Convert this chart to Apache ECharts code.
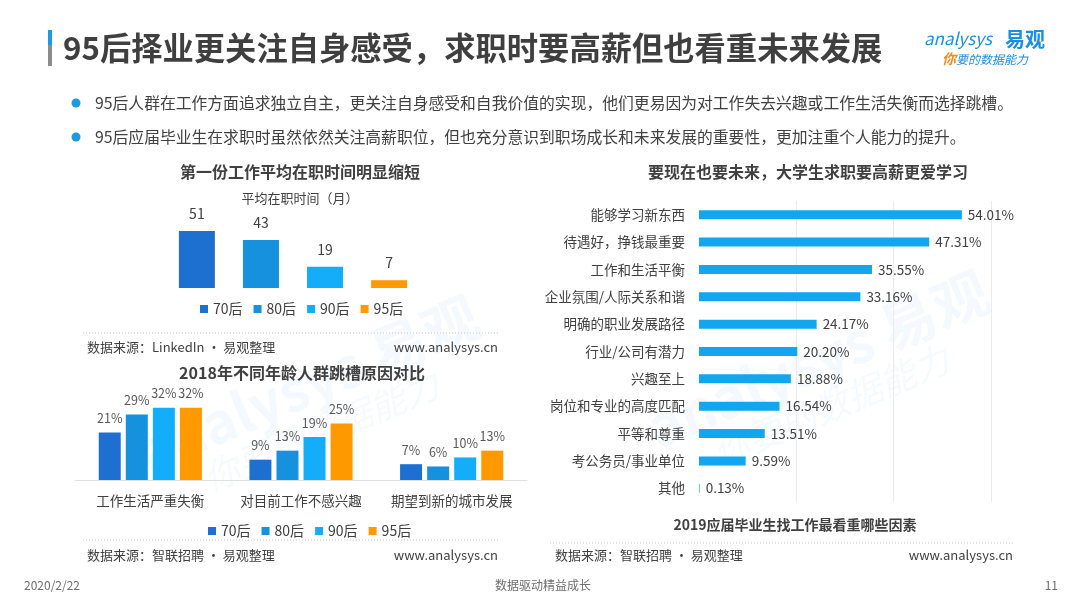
<!DOCTYPE html>
<html lang="zh-CN">
<head>
<meta charset="UTF-8">
<title>95后择业更关注自身感受</title>
<script src="https://cdn.jsdelivr.net/npm/echarts@6/dist/echarts.min.js"></script>
<style>
    html, body { margin: 0; padding: 0; background: #ffffff; }
    #main { width: 1080px; height: 608px; }
</style>
</head>
<body>
<div id="main"></div>
<script>
    // ---- data ----
    const genNames = ['70后', '80后', '90后', '95后'];
    const tenureMonths = [51, 43, 19, 7];          // 平均在职时间（月）

    const reasonCats = ['工作生活严重失衡', '对目前工作不感兴趣', '期望到新的城市发展'];
    const reason70 = [21, 9, 7];
    const reason80 = [29, 13, 6];
    const reason90 = [32, 19, 10];
    const reason95 = [32, 25, 13];

    const factorCats = ['能够学习新东西', '待遇好，挣钱最重要', '工作和生活平衡', '企业氛围/人际关系和谐',
        '明确的职业发展路径', '行业/公司有潜力', '兴趣至上', '岗位和专业的高度匹配', '平等和尊重',
        '考公务员/事业单位', '其他'];
    const factorValues = [54.01, 47.31, 35.55, 33.16, 24.17, 20.20, 18.88, 16.54, 13.51, 9.59, 0.13];

    // ---- styles ----
    const FONT = '"Noto Sans CJK SC", "Noto Sans", sans-serif';
    const genColors = ['#1e70d0', '#1591dd', '#14adf9', '#ff9900'];
    const textDark = '#404040';
    const reasonByGen = [reason70, reason80, reason90, reason95];

    function txt(x, y, text, size, opts) {
        opts = opts || {};
        return {
            type: 'text', x: x, y: y, silent: true, rotation: opts.rotation || 0,
            style: {
                text: text, fontSize: size, fontFamily: FONT,
                fontWeight: opts.bold ? 'bold' : 'normal',
                fontStyle: opts.italic ? 'italic' : 'normal',
                fill: opts.color || textDark,
                align: opts.align || 'left', verticalAlign: 'middle',
                textAlign: opts.align || 'left', textVerticalAlign: 'middle'
            }
        };
    }
    function dotted(x1, x2, y) {
        return {
            type: 'line', silent: true,
            shape: {x1: x1, y1: y, x2: x2, y2: y},
            style: {stroke: '#c8c8c8', lineWidth: 1, lineDash: [1, 2]}
        };
    }

    const series = [];
    genNames.forEach(function (g, i) {
        series.push({
            name: g, type: 'bar', xAxisIndex: 0, yAxisIndex: 0,
            data: [tenureMonths[i]], barWidth: 36, barGap: '78%',
            itemStyle: {color: genColors[i]},
            label: {show: true, position: 'top', distance: 10, fontSize: 14, color: textDark, fontFamily: FONT}
        });
    });
    genNames.forEach(function (g, i) {
        series.push({
            name: g, type: 'bar', xAxisIndex: 1, yAxisIndex: 1,
            data: reasonByGen[i], barWidth: 22, barGap: '23%',
            itemStyle: {color: genColors[i]},
            label: {show: true, position: 'top', distance: 8, fontSize: 12.5, color: '#595959',
                fontFamily: FONT, formatter: '{c}%'}
        });
    });
    series.push({
        name: '因素', type: 'bar', xAxisIndex: 2, yAxisIndex: 2,
        data: factorValues, barWidth: 9,
        itemStyle: {color: '#14a5ef'},
        label: {show: true, position: 'right', distance: 6, fontSize: 13.5, color: textDark, fontFamily: FONT,
            formatter: function (p) { return p.value.toFixed(2) + '%'; }}
    });

    const graphic = [
        // watermarks
        txt(140, 455, 'analysys 易观', 56, {color: 'rgba(20,140,230,0.05)', bold: true, rotation: 0.4}),
        txt(205, 480, '你要的数据能力', 36, {color: 'rgba(20,140,230,0.045)', italic: true, rotation: 0.4}),
        txt(650, 430, 'analysys 易观', 56, {color: 'rgba(20,140,230,0.05)', bold: true, rotation: 0.4}),
        txt(715, 455, '你要的数据能力', 36, {color: 'rgba(20,140,230,0.045)', italic: true, rotation: 0.4}),
        // header
        {type: 'rect', shape: {x: 48, y: 30, width: 4, height: 15}, style: {fill: '#1e9be0'}},
        {type: 'rect', shape: {x: 48, y: 45, width: 4, height: 21}, style: {fill: '#8c8c8c'}},
        txt(63, 48, '95后择业更关注自身感受，求职时要高薪但也看重未来发展', 31.3, {bold: true, color: '#3f3f3f'}),
        // logo
        txt(924, 39, 'analysys', 17, {color: '#1a8fe0', italic: true}),
        txt(1005, 39, '易观', 20, {color: '#1a8fe0', bold: true}),
        txt(942, 59, '你', 14, {color: '#f08c1e', italic: true, bold: true}),
        txt(956, 59, '要的数据能力', 12, {color: '#1a8fe0', italic: true}),
        // bullets
        {type: 'circle', shape: {cx: 76, cy: 103, r: 4.5}, style: {fill: '#1e9be0'}},
        txt(95, 103, '95后人群在工作方面追求独立自主，更关注自身感受和自我价值的实现，他们更易因为对工作失去兴趣或工作生活失衡而选择跳槽。', 15.8),
        {type: 'circle', shape: {cx: 76, cy: 137, r: 4.5}, style: {fill: '#1e9be0'}},
        txt(95, 137, '95后应届毕业生在求职时虽然依然关注高薪职位，但也充分意识到职场成长和未来发展的重要性，更加注重个人能力的提升。', 15.8),
        // top-left chart
        txt(300, 172, '第一份工作平均在职时间明显缩短', 16, {bold: true, align: 'center'}),
        txt(300, 198, '平均在职时间（月）', 13, {align: 'center'}),
        dotted(83, 500, 333),
        txt(87, 347, '数据来源：LinkedIn · 易观整理', 13),
        txt(498, 347, 'www.analysys.cn', 13, {align: 'right'}),
        // bottom-left chart
        txt(302, 373, '2018年不同年龄人群跳槽原因对比', 16, {bold: true, align: 'center'}),
        dotted(83, 500, 540),
        txt(87, 555, '数据来源：智联招聘 · 易观整理', 13),
        txt(498, 555, 'www.analysys.cn', 13, {align: 'right'}),
        // right chart
        txt(808, 172, '要现在也要未来，大学生求职要高薪更爱学习', 16, {bold: true, align: 'center'}),
        txt(795, 525, '2019应届毕业生找工作最看重哪些因素', 14, {bold: true, align: 'center'}),
        dotted(550, 1013, 543),
        txt(555, 555, '数据来源：智联招聘 · 易观整理', 13),
        txt(1013, 555, 'www.analysys.cn', 13, {align: 'right'}),
        // footer
        txt(24, 585, '2020/2/22', 12, {color: '#6e6e6e'}),
        txt(543, 585, '数据驱动精益成长', 12, {color: '#6e6e6e', align: 'center'}),
        txt(1058, 585, '11', 12, {color: '#6e6e6e', align: 'right'})
    ];

    const myChart = echarts.init(document.getElementById('main'));
    const option = {
        backgroundColor: '#ffffff',
        animation: false,
        textStyle: {fontFamily: FONT},
        grid: [
            {left: 163, width: 260, top: 221, height: 67},
            {left: 75, width: 452, top: 401, height: 79},
            {left: 699, width: 292, top: 201, height: 301}
        ],
        xAxis: [
            {gridIndex: 0, type: 'category', data: ['平均在职时间'], show: false},
            {gridIndex: 1, type: 'category', data: reasonCats,
                axisLine: {lineStyle: {color: '#e0e0e0'}}, axisTick: {show: false},
                axisLabel: {interval: 0, fontSize: 13.5, color: textDark, margin: 14, fontFamily: FONT}},
            {gridIndex: 2, type: 'value', min: 0, max: 60, interval: 20,
                axisLine: {show: false}, axisTick: {show: false}, axisLabel: {show: false},
                splitLine: {show: true, showMinLine: false, lineStyle: {color: '#ebebeb'}}}
        ],
        yAxis: [
            {gridIndex: 0, type: 'value', min: 0, max: 60, show: false},
            {gridIndex: 1, type: 'value', min: 0, max: 35, show: false},
            {gridIndex: 2, type: 'category', data: factorCats, inverse: true,
                axisLine: {show: false}, axisTick: {show: false},
                axisLabel: {fontSize: 13.5, color: textDark, margin: 14, fontFamily: FONT}}
        ],
        legend: [
            {data: genNames, left: 195, top: 297, icon: 'rect', itemWidth: 8, itemHeight: 8, itemGap: 11,
                textStyle: {fontSize: 14, color: textDark, fontFamily: FONT}, selectedMode: false},
            {data: genNames, left: 203, top: 519, icon: 'rect', itemWidth: 8, itemHeight: 8, itemGap: 11,
                textStyle: {fontSize: 14, color: textDark, fontFamily: FONT}, selectedMode: false}
        ],
        series: series,
        graphic: graphic
    };
    myChart.setOption(option);
</script>
</body>
</html>
